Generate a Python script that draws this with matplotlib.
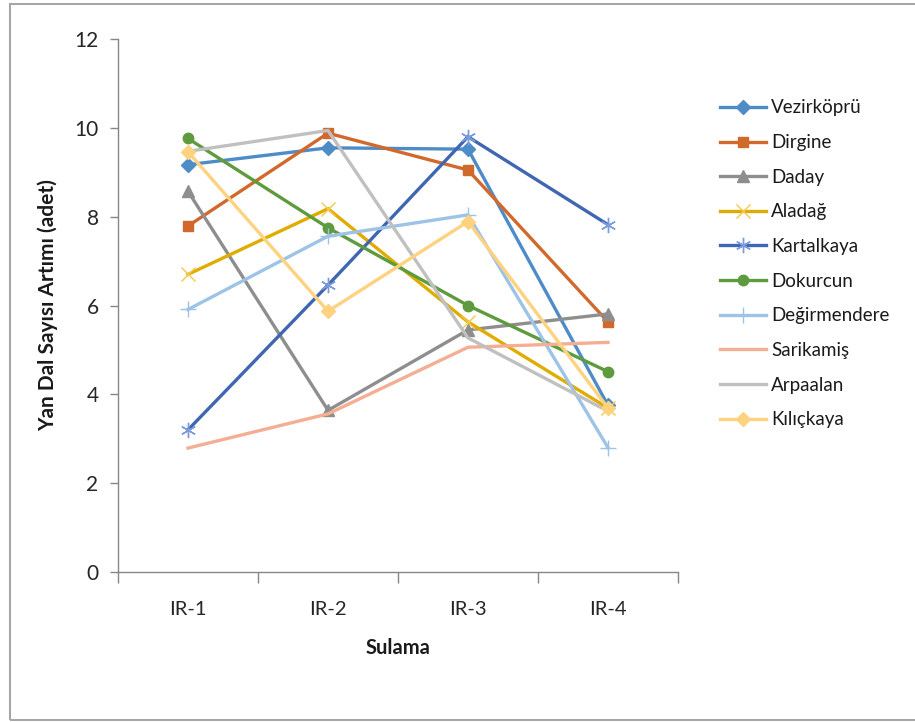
import matplotlib
matplotlib.use("Agg")
import matplotlib.pyplot as plt
from matplotlib.patches import Rectangle
from matplotlib.ticker import FixedLocator, NullFormatter

plt.rcParams['font.family'] = ['Lato', 'DejaVu Sans']

categories = ["IR-1", "IR-2", "IR-3", "IR-4"]

vezirkopru = [9.17, 9.55, 9.52, 3.75]
dirgine = [7.79, 9.88, 9.05, 5.63]
daday = [8.57, 3.64, 5.45, 5.81]
aladag = [6.70, 8.18, 5.63, 3.69]
kartalkaya = [3.20, 6.46, 9.80, 7.82]
dokurcun = [9.76, 7.75, 6.00, 4.51]
degirmendere = [5.91, 7.56, 8.04, 2.80]
sarikamis = [2.79, 3.56, 5.06, 5.17]
arpaalan = [9.47, 9.94, 5.27, 3.62]
kilickaya = [9.46, 5.87, 7.89, 3.69]

series_names = ["Vezirköprü", "Dirgine", "Daday", "Aladağ", "Kartalkaya",
                "Dokurcun", "Değirmendere", "Sarikamiş", "Arpaalan", "Kılıçkaya"]
series_values = [vezirkopru, dirgine, daday, aladag, kartalkaya,
                 dokurcun, degirmendere, sarikamis, arpaalan, kilickaya]

styles = [
    dict(color="#4E8CC7", marker="D", ms=7),
    dict(color="#D2692C", marker="s", ms=7.5),
    dict(color="#8E8E8E", marker="^", ms=8.5),
    dict(color="#E0AC00", marker="x", ms=10, mec="#F2C94C", mew=1.0),
    dict(color="#3F67B1", marker=(6, 2, 0), ms=11, mec="#7B9BDB", mew=1.0),
    dict(color="#5E9B3E", marker="o", ms=7.5),
    dict(color="#9DC3E6", marker="+", ms=11, mec="#9DC3E6", mew=1.0),
    dict(color="#F4AE93", marker=None, ms=0),
    dict(color="#C0C0C0", marker=None, ms=0),
    dict(color="#FFD280", marker="D", ms=7),
]

fig = plt.figure(figsize=(9.15, 7.22), dpi=100)
ax = fig.add_axes([118 / 915, 1 - 572 / 722, 560 / 915, 533 / 722])

x = list(range(len(categories)))
for name, vals, st in zip(series_names, series_values, styles):
    kw = dict(color=st["color"], lw=2.4, label=name, solid_joinstyle="miter")
    if st["marker"] is not None:
        kw.update(marker=st["marker"], markersize=st["ms"],
                  markerfacecolor=st.get("mec", st["color"]),
                  markeredgecolor=st.get("mec", st["color"]),
                  markeredgewidth=st.get("mew", 1.0))
    ax.plot(x, vals, **kw)

ax.set_xlim(-0.5, 3.5)
ax.set_ylim(0, 12)
ax.set_yticks(range(0, 13, 2))

ax.set_xticks(x)
ax.set_xticklabels(categories)
ax.xaxis.set_minor_locator(FixedLocator([-0.5, 0.5, 1.5, 2.5, 3.5]))
ax.xaxis.set_minor_formatter(NullFormatter())
ax.tick_params(axis="x", which="major", length=0, pad=21, labelsize=14.5, colors="#262626")
ax.tick_params(axis="x", which="minor", length=8, width=1, color="#868686")
ax.tick_params(axis="y", which="major", length=6, width=1, color="#868686",
               labelsize=15, pad=8, labelcolor="#262626")

for side in ("top", "right"):
    ax.spines[side].set_visible(False)
for side in ("left", "bottom"):
    ax.spines[side].set_color("#868686")
    ax.spines[side].set_linewidth(1.0)

ax.set_xlabel("Sulama", fontsize=14.5, fontweight="bold", labelpad=14, color="#1a1a1a")
ax.set_ylabel("Yan Dal Sayısı Artımı (adet)", fontsize=15, fontweight="bold",
              labelpad=12, color="#1a1a1a")

leg = ax.legend(loc="upper left", bbox_to_anchor=(712 / 915, 1 - 92 / 722),
                bbox_transform=fig.transFigure, frameon=False, fontsize=13.5,
                handlelength=2.5, handletextpad=0.25, labelspacing=0.94,
                borderaxespad=0)
for t in leg.get_texts():
    t.set_color("#1a1a1a")

fig.patches.append(Rectangle((10 / 915, 2 / 722), 1.2, 716 / 722,
                             transform=fig.transFigure, fill=False,
                             edgecolor="#A6A6A6", lw=1.5, clip_on=False))

fig.savefig("out.png", dpi=100)
